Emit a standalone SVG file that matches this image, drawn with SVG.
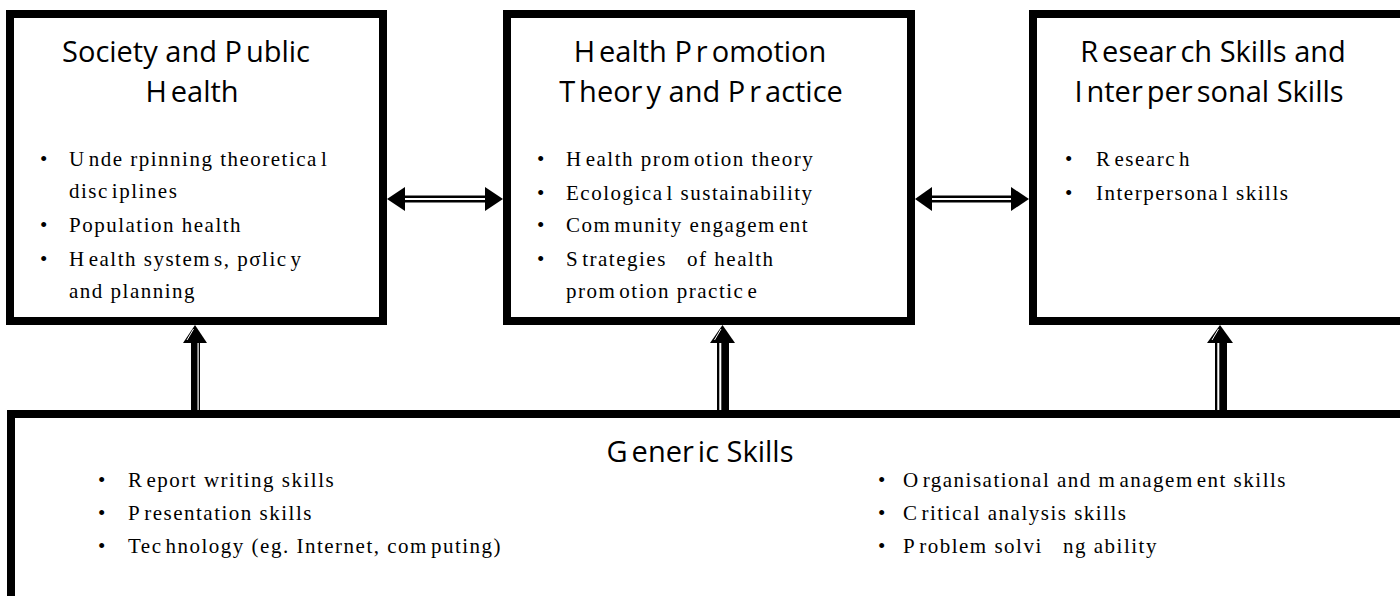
<svg xmlns="http://www.w3.org/2000/svg" width="1400" height="596" viewBox="0 0 1400 596">
<style>
.box{fill:#fff;stroke:#000;stroke-width:8}
.title{font-family:"Open Sans","Liberation Sans",sans-serif;font-size:29px;fill:#000;text-anchor:middle}
.body{font-family:"Liberation Serif","Times New Roman",serif;font-size:21px;letter-spacing:1.5px;fill:#000}
.head{fill:#000}
.shaft{fill:#000}
.gap{fill:#fff}
</style>
<rect width="1400" height="596" fill="#fff"/>

<g id="society">
<rect class="box" x="10" y="14" width="373" height="307"/>
<text class="title" x="186" y="62">Society and P<tspan dx="4">ublic</tspan></text>
<text class="title" x="192" y="102">H<tspan dx="4">ealth</tspan></text>
<text class="body" x="40" y="166">•</text>
<text class="body" x="69" y="166">U<tspan dx="3">nde rpinning theoretica</tspan><tspan dx="3">l</tspan></text>
<text class="body" x="69" y="198">disc<tspan dx="3">iplines</tspan></text>
<text class="body" x="40" y="232">•</text>
<text class="body" x="69" y="232">Population health</text>
<text class="body" x="40" y="266">•</text>
<text class="body" x="69" y="266">H<tspan dx="3">ealth system</tspan><tspan dx="3">s, pσlic</tspan><tspan dx="3">y</tspan></text>
<text class="body" x="69" y="298">and planning</text>
</g>

<g id="promotion">
<rect class="box" x="507" y="14" width="404" height="307"/>
<text class="title" x="700" y="62">H<tspan dx="4">ealth P</tspan><tspan dx="4">r</tspan><tspan dx="4">omotion</tspan></text>
<text class="title" x="701" y="102">T<tspan dx="4">heor</tspan><tspan dx="4">y and P</tspan><tspan dx="4">r</tspan><tspan dx="4">actice</tspan></text>
<text class="body" x="537" y="166">•</text>
<text class="body" x="566" y="166">H<tspan dx="3">ealth prom</tspan><tspan dx="3">otion theory</tspan></text>
<text class="body" x="537" y="200">•</text>
<text class="body" x="566" y="200">Ecologica<tspan dx="3">l sustainability</tspan></text>
<text class="body" x="537" y="232">•</text>
<text class="body" x="566" y="232">Com<tspan dx="3">munity engagem</tspan><tspan dx="3">ent</tspan></text>
<text class="body" x="537" y="266">•</text>
<text class="body" x="566" y="266" xml:space="preserve">S<tspan dx="3">trategies   of health</tspan></text>
<text class="body" x="566" y="298">prom<tspan dx="3">otion practic</tspan><tspan dx="3">e</tspan></text>
</g>

<g id="research">
<rect class="box" x="1033" y="14" width="400" height="307"/>
<text class="title" x="1213" y="62">R<tspan dx="4">esear</tspan><tspan dx="4">ch Skills and</tspan></text>
<text class="title" x="1209" y="102">I<tspan dx="4">nter</tspan><tspan dx="4">per</tspan><tspan dx="4">sonal Skills</tspan></text>
<text class="body" x="1065" y="166">•</text>
<text class="body" x="1096" y="166">R<tspan dx="3">esearc</tspan><tspan dx="3">h</tspan></text>
<text class="body" x="1065" y="200">•</text>
<text class="body" x="1096" y="200">Interpersona<tspan dx="3">l skills</tspan></text>
</g>

<g id="generic">
<rect class="box" x="11" y="414" width="1400" height="300"/>
<text class="title" x="700" y="462">G<tspan dx="4">ener</tspan><tspan dx="4">ic Skills</tspan></text>
<text class="body" x="98" y="487">•</text>
<text class="body" x="128" y="487">R<tspan dx="3">eport writing skills</tspan></text>
<text class="body" x="98" y="520">•</text>
<text class="body" x="128" y="520">P<tspan dx="3">resentation skills</tspan></text>
<text class="body" x="98" y="553">•</text>
<text class="body" x="128" y="553">Tec<tspan dx="3">hnology (eg. Internet, com</tspan><tspan dx="3">puting)</tspan></text>
<text class="body" x="878" y="487">•</text>
<text class="body" x="903" y="487">O<tspan dx="3">rganisational and m</tspan><tspan dx="3">anagem</tspan><tspan dx="3">ent skills</tspan></text>
<text class="body" x="878" y="520">•</text>
<text class="body" x="903" y="520">C<tspan dx="3">ritical analysis skills</tspan></text>
<text class="body" x="878" y="553">•</text>
<text class="body" x="903" y="553" xml:space="preserve">P<tspan dx="3">roblem solvi   ng ability</tspan></text>
</g>

<g id="connectors">
<rect class="shaft" x="400" y="195.5" width="90" height="7"/>
<rect class="gap" x="398" y="198" width="94" height="2"/>
<polygon class="head" points="387,199 405,187 405,211"/>
<polygon class="head" points="503,199 485,187 485,211"/>
<rect class="shaft" x="926" y="195.5" width="90" height="7"/>
<rect class="gap" x="924" y="198" width="94" height="2"/>
<polygon class="head" points="915,199 932,187 932,211"/>
<polygon class="head" points="1029,199 1011,187 1011,211"/>
<rect class="shaft" x="191" y="338" width="9" height="74"/>
<rect class="gap" x="197.5" y="340" width="1.2" height="70"/>
<polygon class="head" points="195,325 183,343 207,343"/>
<line x1="193.5" y1="329" x2="187" y2="340" stroke="#fff" stroke-width="1"/>
<rect class="shaft" x="717" y="338" width="12" height="74"/>
<rect class="gap" x="719.3" y="340" width="2" height="70"/>
<polygon class="head" points="722.5,325 710,343 735,343"/>
<line x1="721" y1="329" x2="714.5" y2="340" stroke="#fff" stroke-width="1"/>
<rect class="shaft" x="1215" y="338" width="12" height="74"/>
<rect class="gap" x="1217.3" y="340" width="2" height="70"/>
<polygon class="head" points="1220,325 1207,343 1233,343"/>
<line x1="1218.5" y1="329" x2="1212" y2="340" stroke="#fff" stroke-width="1"/>
</g>
</svg>
